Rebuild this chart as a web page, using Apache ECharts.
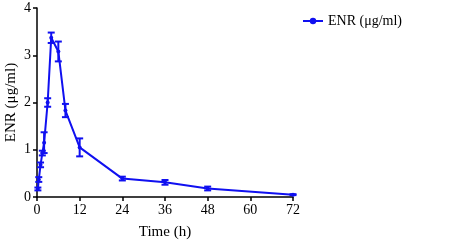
<!DOCTYPE html>
<html>
<head>
<meta charset="utf-8">
<script src="https://cdn.jsdelivr.net/npm/echarts@6/dist/echarts.min.js"></script>
<style>
  html, body { margin: 0; padding: 0; background: #fff; }
  #chart { width: 459px; height: 245px; }
</style>
</head>
<body>
<div id="chart"></div>
<script>
// sampling times (h), mean concentration and SD
var times = [0.25, 0.5, 1, 1.5, 2, 3, 4, 6, 8, 12, 24, 36, 48, 72]
var means = [0.17, 0.37, 0.68, 0.93, 1.15, 2.0, 3.37, 3.08, 1.83, 1.05, 0.39, 0.31, 0.18, 0.05]
var sds = [0.03, 0.05, 0.05, 0.05, 0.22, 0.09, 0.11, 0.21, 0.14, 0.19, 0.04, 0.05, 0.04, 0.01]
var xTicks = [0, 12, 24, 36, 48, 60, 72]
var yTicks = [0, 1, 2, 3, 4]

var blue = '#1010f0'
var font = 'Liberation Serif'

var lineData = times.map(function (t, i) { return [t, means[i]] })
var errData = times.map(function (t, i) { return [t, means[i] - sds[i], means[i] + sds[i]] })

var chart = echarts.init(document.getElementById('chart'))
var option = {
  animation: false,
  grid: { left: 37, right: 166, top: 8, bottom: 48, outerBoundsMode: 'none' },
  legend: {
    data: ['ENR (μg/ml)'],
    left: 297,
    top: 9,
    itemWidth: 20,
    itemHeight: 8,
    itemGap: 4,
    textStyle: { fontFamily: font, fontSize: 14, color: '#000' }
  },
  xAxis: {
    type: 'value',
    min: 0,
    max: 72,
    interval: 12,
    name: 'Time (h)',
    nameLocation: 'middle',
    nameGap: 28,
    nameMoveOverlap: false,
    nameTextStyle: { fontFamily: font, fontSize: 15, color: '#000' },
    axisLine: { lineStyle: { color: '#000', width: 1.5 } },
    axisTick: { show: true, length: 4, lineStyle: { color: '#000', width: 1.5 } },
    axisLabel: { fontFamily: font, fontSize: 14, color: '#000', margin: 6 },
    splitLine: { show: false }
  },
  yAxis: {
    type: 'value',
    min: 0,
    max: 4,
    interval: 1,
    name: 'ENR (μg/ml)',
    nameLocation: 'middle',
    nameGap: 18,
    nameMoveOverlap: false,
    nameTextStyle: { fontFamily: font, fontSize: 15, color: '#000' },
    axisLine: { show: true, lineStyle: { color: '#000', width: 1.5 } },
    axisTick: { show: true, length: 4, lineStyle: { color: '#000', width: 1.5 } },
    axisLabel: { fontFamily: font, fontSize: 14, color: '#000', margin: 6 },
    splitLine: { show: false }
  },
  series: [
    {
      name: 'ENR (μg/ml)',
      type: 'line',
      data: lineData,
      symbol: 'circle',
      symbolSize: 4,
      itemStyle: { color: blue },
      lineStyle: { color: blue, width: 2 },
      z: 3
    },
    {
      // error bars
      type: 'custom',
      data: errData,
      renderItem: function (params, api) {
        var x = api.value(0)
        var lo = api.coord([x, api.value(1)])
        var hi = api.coord([x, api.value(2)])
        var w = 3.5
        var st = { stroke: blue, lineWidth: 2 }
        return {
          type: 'group',
          children: [
            { type: 'line', shape: { x1: lo[0], y1: lo[1], x2: hi[0], y2: hi[1] }, style: st },
            { type: 'line', shape: { x1: lo[0] - w, y1: lo[1], x2: lo[0] + w, y2: lo[1] }, style: st },
            { type: 'line', shape: { x1: hi[0] - w, y1: hi[1], x2: hi[0] + w, y2: hi[1] }, style: st }
          ]
        }
      },
      z: 4
    }
  ]
}
chart.setOption(option)
</script>
</body>
</html>
